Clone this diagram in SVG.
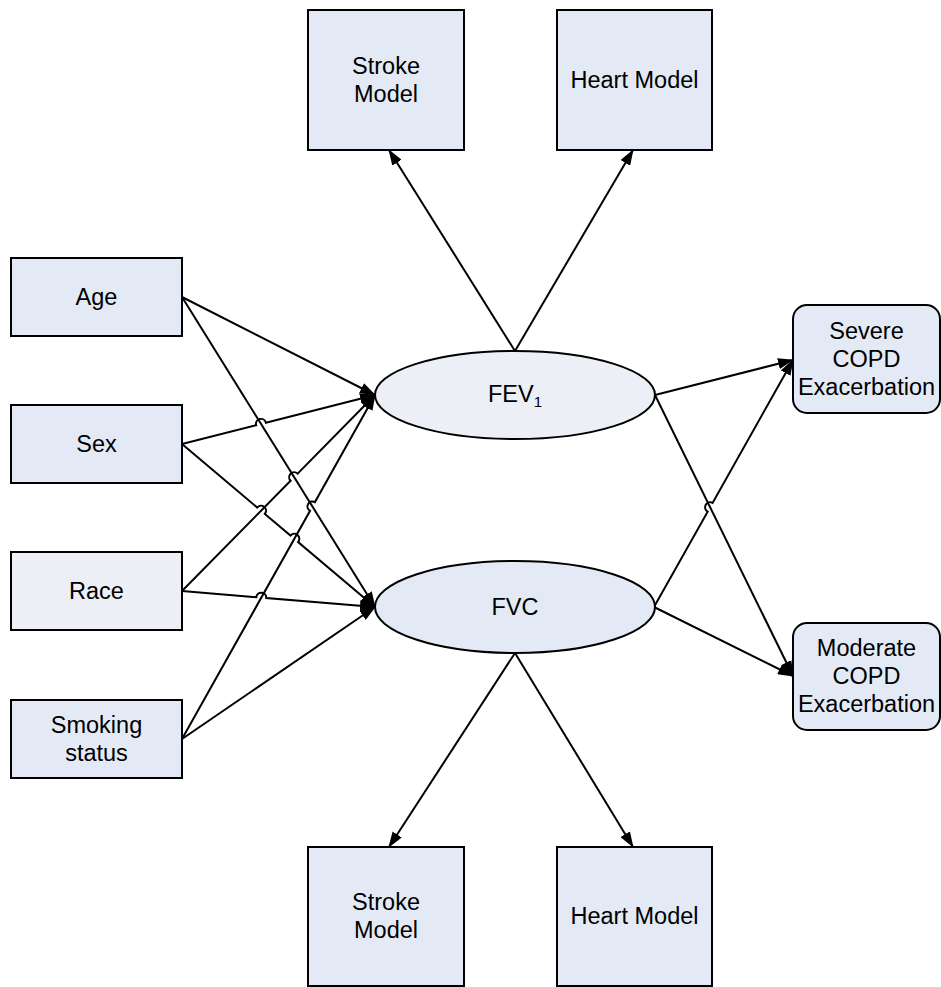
<svg xmlns="http://www.w3.org/2000/svg" width="941" height="987" viewBox="0 0 941 987">
  <defs>
    <marker id="arrow" viewBox="0 0 16 11" refX="15" refY="5.5" markerWidth="16" markerHeight="11" markerUnits="userSpaceOnUse" orient="auto">
      <path d="M0,0 L16,5.5 L0,11 Z" fill="#000"/>
    </marker>
    <style>
      .box { fill: #E4EAF5; stroke: #000; stroke-width: 2; }
      .box-light { fill: #ECEFF5; stroke: #000; stroke-width: 2; }
      .label { font-family: "Liberation Sans", Arial, sans-serif; font-size: 23.5px; fill: #000; text-anchor: middle; }
      .edge { fill: none; stroke: #000; stroke-width: 2; marker-end: url(#arrow); }
    </style>
  </defs>
  <rect width="941" height="987" fill="#fff"/>

  <!-- connectors (small arcs are line jumps where paths cross) -->
  <g id="connectors">
    <path class="edge" d="M515,351 L389,150"/>
    <path class="edge" d="M515,351 L633,150"/>
    <path class="edge" d="M515,653 L389,847"/>
    <path class="edge" d="M515,653 L633,847"/>

    <path class="edge" d="M182,297 L375,395"/>
    <path class="edge" d="M182,297 L375,607"/>
    <path class="edge" d="M182,444 L256.15,425.17 A5,5 0 0 1 265.85,422.71 L375,395"/>
    <path class="edge" d="M182,444 L257.18,507.49 A5,5 0 0 1 264.82,513.95 L290.48,535.62 A5,5 0 0 1 298.12,542.08 L375,607"/>
    <path class="edge" d="M182,591 L290.59,480.72 A5,5 0 0 1 297.61,473.6 L375,395"/>
    <path class="edge" d="M182,591 L256.32,597.16 A5,5 0 0 1 266.28,597.98 L375,607"/>
    <path class="edge" d="M182,739 L310.05,510.76 A5,5 0 0 1 314.95,502.04 L375,395"/>
    <path class="edge" d="M182,739 L375,607"/>

    <path class="edge" d="M655,395 L793,360"/>
    <path class="edge" d="M655,395 L793,676"/>
    <path class="edge" d="M654,607 L707.68,511.62 A5,5 0 0 1 712.58,502.9 L793,360"/>
    <path class="edge" d="M654,607 L793,676"/>
  </g>

  <!-- outcome models above -->
  <g id="stroke-top">
    <rect class="box" x="308" y="10" width="156" height="140"/>
    <text class="label" x="386" y="74">Stroke</text>
    <text class="label" x="386" y="102">Model</text>
  </g>
  <g id="heart-top">
    <rect class="box" x="557" y="10" width="155" height="140"/>
    <text class="label" x="634.5" y="88">Heart Model</text>
  </g>

  <!-- covariates -->
  <g id="age">
    <rect class="box" x="11" y="258" width="171" height="78"/>
    <text class="label" x="96.5" y="305">Age</text>
  </g>
  <g id="sex">
    <rect class="box" x="11" y="405" width="171" height="78"/>
    <text class="label" x="96.5" y="452">Sex</text>
  </g>
  <g id="race">
    <rect class="box-light" x="11" y="552" width="171" height="78"/>
    <text class="label" x="96.5" y="599">Race</text>
  </g>
  <g id="smoking">
    <rect class="box" x="11" y="700" width="171" height="78"/>
    <text class="label" x="96.5" y="733">Smoking</text>
    <text class="label" x="96.5" y="761">status</text>
  </g>

  <!-- lung function -->
  <g id="fev1">
    <ellipse class="box-light" cx="515" cy="395" rx="140" ry="44"/>
    <text class="label" x="515" y="402">FEV<tspan font-size="15" dy="5">1</tspan></text>
  </g>
  <g id="fvc">
    <ellipse class="box" cx="515" cy="607" rx="140" ry="46"/>
    <text class="label" x="515" y="615">FVC</text>
  </g>

  <!-- exacerbation outcomes -->
  <g id="severe">
    <rect class="box" x="793" y="305" width="147" height="108" rx="14" ry="14"/>
    <text class="label" x="866.5" y="339">Severe</text>
    <text class="label" x="866.5" y="367">COPD</text>
    <text class="label" x="866.5" y="395">Exacerbation</text>
  </g>
  <g id="moderate">
    <rect class="box" x="793" y="623" width="147" height="107" rx="14" ry="14"/>
    <text class="label" x="866.5" y="656">Moderate</text>
    <text class="label" x="866.5" y="684">COPD</text>
    <text class="label" x="866.5" y="712">Exacerbation</text>
  </g>

  <!-- outcome models below -->
  <g id="stroke-bottom">
    <rect class="box" x="308" y="847" width="156" height="139"/>
    <text class="label" x="386" y="910">Stroke</text>
    <text class="label" x="386" y="938">Model</text>
  </g>
  <g id="heart-bottom">
    <rect class="box" x="557" y="847" width="155" height="139"/>
    <text class="label" x="634.5" y="924">Heart Model</text>
  </g>
</svg>
